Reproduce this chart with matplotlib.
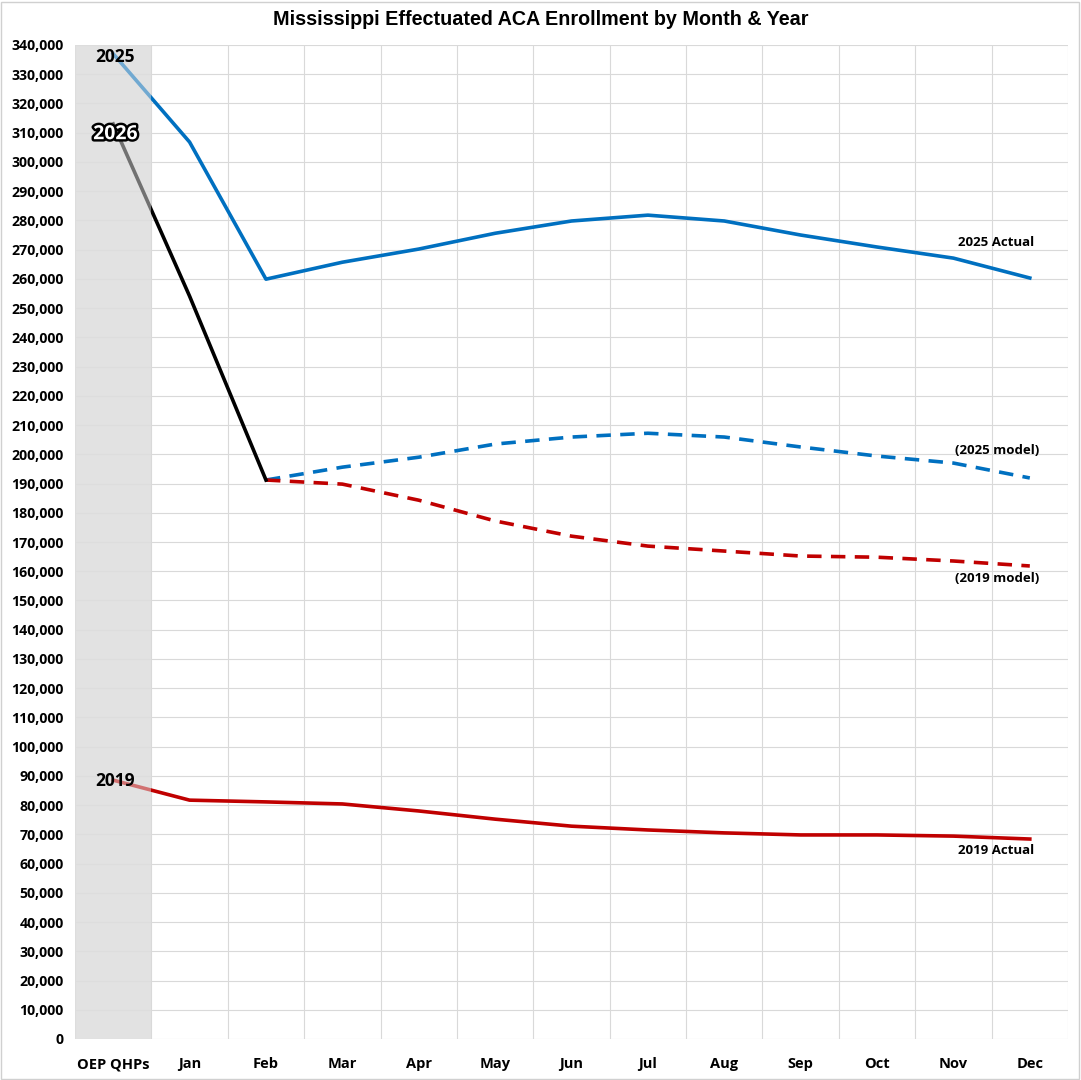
import numpy as np
import matplotlib
matplotlib.use("Agg")
import matplotlib.pyplot as plt
import matplotlib.patheffects as pe
from matplotlib.patches import Rectangle
from matplotlib.ticker import FuncFormatter, MultipleLocator

months = ["OEP QHPs", "Jan", "Feb", "Mar", "Apr", "May", "Jun",
          "Jul", "Aug", "Sep", "Oct", "Nov", "Dec"]

actual_2025 = [337000, 306800, 259900, 265700, 270200, 275600, 279800,
               281800, 279800, 275000, 270900, 267100, 260300]
actual_2026 = [313000, 254100, 191200]
model_2025 = [191200, 195600, 199000, 203500, 205900, 207200,
              205900, 202500, 199400, 197000, 191900]
model_2019 = [191200, 189800, 184300, 177200, 172000, 168600,
              166900, 165200, 164800, 163500, 161800]
actual_2019 = [88542, 81700, 81100, 80400, 78000, 75200, 72800,
               71500, 70500, 69800, 69800, 69400, 68400]

blue = "#0070C0"
red = "#C00000"
band = "#E2E2E2"

plt.rcParams["font.family"] = ["Open Sans", "DejaVu Sans"]
plt.rcParams["font.weight"] = "bold"

fig = plt.figure(figsize=(10.81, 10.80), dpi=100)
ax = fig.add_axes([75/1081, 1-1039/1080, (1068-75)/1081, (1039-45)/1080])

x = np.arange(len(months))
ax.axvspan(-0.5, 0.5, color=band, zorder=0, lw=0)

ax.plot(x, actual_2025, color=blue, lw=2.6, zorder=3)
ax.plot(x[:3], actual_2026, color="black", lw=2.6, zorder=4)
ax.plot(x[2:], model_2025, color=blue, lw=2.6, dashes=(4, 2.6), zorder=3)
ax.plot(x[2:], model_2019, color=red, lw=2.6, dashes=(4, 2.6), zorder=3)
ax.plot(x, actual_2019, color=red, lw=2.6, zorder=3)

# light overlay so lines look faded inside the OEP column
ax.axvspan(-0.5, 0.5, color=band, alpha=0.5, zorder=5, lw=0)

ax.set_xlim(-0.5, 12.5)
ax.set_ylim(0, 340000)
ax.yaxis.set_major_locator(MultipleLocator(10000))
ax.yaxis.set_major_formatter(FuncFormatter(lambda v, p: f"{int(v):,}"))
ax.set_xticks(x)
ax.set_xticklabels(months)
ax.set_xticks(np.arange(-0.5, 13, 1), minor=True)
ax.tick_params(axis="x", which="both", length=0, pad=13, labelsize=10.5)
ax.tick_params(axis="y", length=0, pad=8, labelsize=10.2)
ax.grid(axis="y", color="#D9D9D9", lw=0.8, zorder=1)
ax.grid(axis="x", which="minor", color="#D9D9D9", lw=0.8, zorder=1)
ax.grid(axis="x", which="major", visible=False)
for s in ax.spines.values():
    s.set_visible(False)

fig.suptitle("Mississippi Effectuated ACA Enrollment by Month & Year",
             x=0.5, y=0.991, fontsize=14.2, fontweight="bold", family="Liberation Sans")

ax.text(0.03, 336000, "2025", ha="center", va="center", fontsize=12.5,
        fontweight="bold", zorder=6)
ax.text(0.03, 309500, "2026", ha="center", va="center", fontsize=14,
        fontweight="bold", color="white", zorder=6,
        path_effects=[pe.withStroke(linewidth=3.5, foreground="black")])
ax.text(0.03, 88200, "2019", ha="center", va="center", fontsize=12.5,
        fontweight="bold", zorder=6)

ax.text(12.06, 272500, "2025 Actual", ha="right", va="center", fontsize=9.5)
ax.text(12.13, 201200, "(2025 model)", ha="right", va="center", fontsize=9.5)
ax.text(12.13, 157500, "(2019 model)", ha="right", va="center", fontsize=9.5)
ax.text(12.06, 64400, "2019 Actual", ha="right", va="center", fontsize=9.5)

fig.patches.append(Rectangle((0.001, 0.001), 0.997, 0.997, transform=fig.transFigure,
                             fill=False, edgecolor="#D0D0D0", lw=1))

fig.savefig("out.png", dpi=100)
